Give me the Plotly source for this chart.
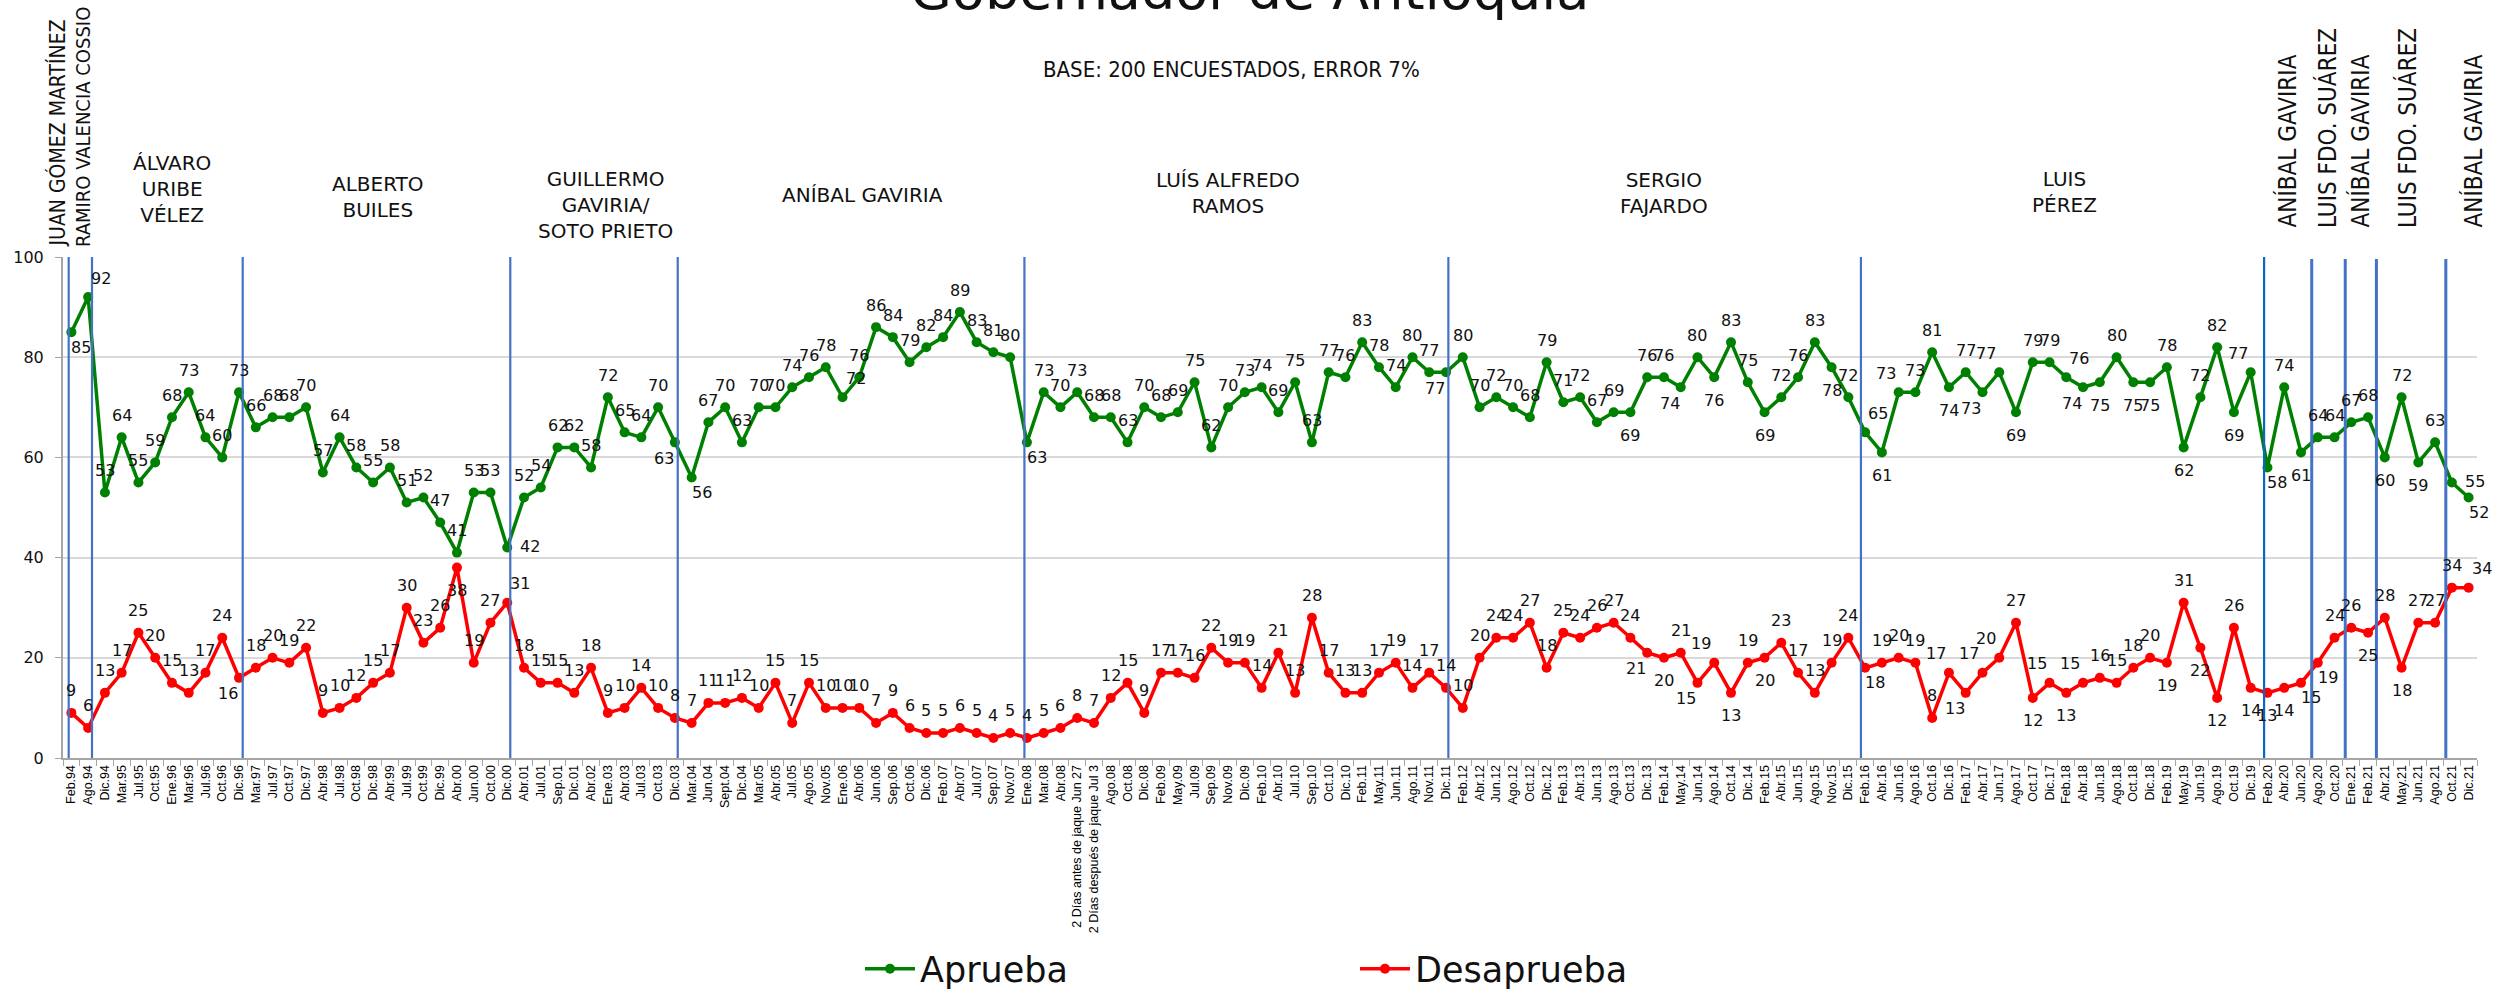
import plotly.graph_objects as go

# ---- survey dates (one per poll) ----
categories = [
    "Feb.94", "Ago.94", "Dic.94", "Mar.95", "Jul.95", "Oct.95", "Ene.96", "Mar.96", "Jul.96", "Oct.96",
    "Dic.96", "Mar.97", "Jul.97", "Oct.97", "Dic.97", "Abr.98", "Jul.98", "Oct.98", "Dic.98", "Abr.99",
    "Jul.99", "Oct.99", "Dic.99", "Abr.00", "Jun.00", "Oct.00", "Dic.00", "Abr.01", "Jul.01", "Sep.01",
    "Dic.01", "Abr.02", "Ene.03", "Abr.03", "Jul.03", "Oct.03", "Dic.03", "Mar.04", "Jun.04", "Sept.04",
    "Dic.04", "Mar.05", "Abr.05", "Jul.05", "Ago.05", "Nov.05", "Ene.06", "Abr.06", "Jun.06", "Sep.06",
    "Oct.06", "Dic.06", "Feb.07", "Abr.07", "Jul.07", "Sep.07", "Nov.07", "Ene.08", "Mar.08", "Abr.08",
    "2 Días antes de jaque Jun 27", "2 Días después de jaque Jul 3", "Ago.08", "Oct.08", "Dic.08",
    "Feb.09", "May.09", "Jul.09", "Sep.09", "Nov.09",
    "Dic.09", "Feb.10", "Abr.10", "Jul.10", "Sep.10", "Oct.10", "Dic.10", "Feb.11", "May.11", "Jun.11",
    "Ago.11", "Nov.11", "Dic.11", "Feb.12", "Abr.12", "Jun.12", "Ago.12", "Oct.12", "Dic.12", "Feb.13",
    "Abr.13", "Jun.13", "Ago.13", "Oct.13", "Dic.13", "Feb.14", "May.14", "Jun.14", "Ago.14", "Oct.14",
    "Dic.14", "Feb.15", "Abr.15", "Jun.15", "Ago.15", "Nov.15", "Dic.15", "Feb.16", "Abr.16", "Jun.16",
    "Ago.16", "Oct.16", "Dic.16", "Feb.17", "Abr.17", "Jun.17", "Ago.17", "Oct.17", "Dic.17", "Feb.18",
    "Abr.18", "Jun.18", "Ago.18", "Oct.18", "Dic.18", "Feb.19", "May.19", "Jun.19", "Ago.19", "Oct.19",
    "Dic.19", "Feb.20", "Abr.20", "Jun.20", "Ago.20", "Oct.20", "Ene.21", "Feb.21", "Abr.21", "May.21",
    "Jun.21", "Ago.21", "Oct.21", "Dic.21",
]

aprueba = [
    85, 92, 53, 64, 55, 59, 68, 73, 64, 60,
    73, 66, 68, 68, 70, 57, 64, 58, 55, 58,
    51, 52, 47, 41, 53, 53, 42, 52, 54, 62,
    62, 58, 72, 65, 64, 70, 63, 56, 67, 70,
    63, 70, 70, 74, 76, 78, 72, 76, 86, 84,
    79, 82, 84, 89, 83, 81, 80, 63, 73, 70,
    73, 68, 68, 63, 70, 68, 69, 75, 62, 70,
    73, 74, 69, 75, 63, 77, 76, 83, 78, 74,
    80, 77, 77, 80, 70, 72, 70, 68, 79, 71,
    72, 67, 69, 69, 76, 76, 74, 80, 76, 83,
    75, 69, 72, 76, 83, 78, 72, 65, 61, 73,
    73, 81, 74, 77, 73, 77, 69, 79, 79, 76,
    74, 75, 80, 75, 75, 78, 62, 72, 82, 69,
    77, 58, 74, 61, 64, 64, 67, 68, 60, 72,
    59, 63, 55, 52,
]

desaprueba = [
    9, 6, 13, 17, 25, 20, 15, 13, 17, 24,
    16, 18, 20, 19, 22, 9, 10, 12, 15, 17,
    30, 23, 26, 38, 19, 27, 31, 18, 15, 15,
    13, 18, 9, 10, 14, 10, 8, 7, 11, 11,
    12, 10, 15, 7, 15, 10, 10, 10, 7, 9,
    6, 5, 5, 6, 5, 4, 5, 4, 5, 6,
    8, 7, 12, 15, 9, 17, 17, 16, 22, 19,
    19, 14, 21, 13, 28, 17, 13, 13, 17, 19,
    14, 17, 14, 10, 20, 24, 24, 27, 18, 25,
    24, 26, 27, 24, 21, 20, 21, 15, 19, 13,
    19, 20, 23, 17, 13, 19, 24, 18, 19, 20,
    19, 8, 17, 13, 17, 20, 27, 12, 15, 13,
    15, 16, 15, 18, 20, 19, 31, 22, 12, 26,
    14, 13, 14, 15, 19, 24, 26, 25, 28, 18,
    27, 27, 34, 34,
]

# governors written across the top of each term
governors = [
    "ÁLVARO<br>URIBE<br>VÉLEZ",
    "ALBERTO<br>BUILES",
    "GUILLERMO<br>GAVIRIA/<br>SOTO PRIETO",
    "ANÍBAL GAVIRIA",
    "LUÍS ALFREDO<br>RAMOS",
    "SERGIO<br>FAJARDO",
    "LUIS<br>PÉREZ",
]
governor_anchor = ["Ene.96", "Dic.98", "Ene.03", "Abr.06", "Nov.09", "Feb.14", "Feb.18"]
governor_nudge = [0.0, 0.3, -0.16, 0.2, 0.0, 0.0, -0.1]
governor_ypx = [189, 197, 205, 195, 193, 193, 192]

# short terms, written vertically (x in pixels of the canvas)
short_terms = [
    "JUAN GÓMEZ MARTÍNEZ", "RAMIRO VALENCIA COSSIO",
    "ANÍBAL GAVIRIA", "LUIS FDO. SUÁREZ", "ANÍBAL GAVIRIA", "LUIS FDO. SUÁREZ", "ANÍBAL GAVIRIA",
]
short_xpx = [57, 83, 2287, 2328, 2360, 2408, 2473]
short_size = [21, 20, 24, 24, 24, 24, 24]

# term boundaries: (survey, fraction of a slot from it)
term_breaks = [
    ("Feb.94", -0.16), ("Ago.94", 0.23), ("Dic.96", 0.22), ("Dic.00", 0.18), ("Dic.03", 0.17),
    ("Ene.08", -0.15), ("Dic.11", 0.14), ("Feb.16", -0.25), ("Feb.20", -0.2), ("Ago.20", -0.36),
    ("Ene.21", -0.36), ("Abr.21", -0.5), ("Oct.21", -0.36),
]

# data-label placement overrides (default: above the point)
green_label_pos = {
    "Feb.94": "BR", "Ago.94": "TR", "Dic.00": "R", "Dic.03": "BL", "Mar.04": "BR", "Ene.06": "TR",
    "Ene.08": "BR", "Dic.11": "BL", "Oct.13": "B", "May.14": "BL", "Ago.14": "B", "Feb.15": "B",
    "Nov.15": "B", "Feb.16": "TR", "Abr.16": "B", "Jun.16": "TL", "Dic.16": "B", "Abr.17": "BL",
    "Jun.17": "TL", "Ago.17": "B", "Feb.18": "TR", "Abr.18": "BL", "Jun.18": "B", "Oct.18": "B",
    "Dic.18": "B", "May.19": "B", "Oct.19": "B", "Dic.19": "TL", "Feb.20": "BR", "Jun.20": "B",
    "Abr.21": "B", "Jun.21": "B", "Oct.21": "R", "Dic.21": "BR",
}
red_label_pos = {
    "Dic.96": "BL", "Abr.00": "B", "Dic.00": "TR", "Dic.13": "BL", "Feb.14": "B", "Jun.14": "BL",
    "Ago.14": "TL", "Oct.14": "B", "Feb.15": "B", "Feb.16": "BR", "Dic.16": "TL", "Feb.17": "BL",
    "Abr.17": "TL", "Jun.17": "TL", "Oct.17": "B", "Dic.17": "TL", "Feb.18": "B", "Abr.18": "TL",
    "Feb.19": "B", "Jun.19": "B", "Ago.19": "B", "Dic.19": "B", "Feb.20": "B", "Abr.20": "B",
    "Jun.20": "BR", "Ago.20": "BR", "Feb.21": "B", "May.21": "B", "Dic.21": "TR",
}
label_shift = {
    "T": (0, 22), "B": (0, -23), "BR": (10, -15), "BL": (-11, -16),
    "TR": (13, 19), "TL": (-13, 19), "R": (23, 1),
}

# ---- canvas geometry ----
W, H = 2501, 991
ML, MR, MT, MB = 63, 24, 257, 233
PLOT_W = W - ML - MR
PLOT_H = H - MT - MB


def px(pixel_x):
    """Paper x for a pixel column."""
    return (pixel_x - ML) / PLOT_W


def py(pixel_y):
    """Paper y for a pixel row."""
    return (H - MB - pixel_y) / PLOT_H


GREEN = "#008000"
RED = "#FF0000"
LABEL_FONT = "DejaVu Sans"
NARROW_FONT = "Liberation Sans Narrow, DejaVu Sans Condensed, sans-serif"

fig = go.Figure()
fig.add_trace(go.Scatter(
    x=categories, y=aprueba, name="Aprueba", mode="lines+markers",
    line=dict(color=GREEN, width=3.5), marker=dict(color=GREEN, size=10),
    cliponaxis=False,
))
fig.add_trace(go.Scatter(
    x=categories, y=desaprueba, name="Desaprueba", mode="lines+markers",
    line=dict(color=RED, width=3.5), marker=dict(color=RED, size=10),
    cliponaxis=False,
))

annotations = []

# value labels
for values, overrides in ((aprueba, green_label_pos), (desaprueba, red_label_pos)):
    for cat, val in zip(categories, values):
        dx, dy = label_shift[overrides.get(cat, "T")]
        annotations.append(dict(
            x=cat, y=val, xref="x", yref="y", text=str(val), showarrow=False,
            xshift=dx, yshift=dy, font=dict(family=LABEL_FONT, size=16, color="#111111"),
        ))

# governor names over each term
for text, cat, nudge, ypx in zip(governors, governor_anchor, governor_nudge, governor_ypx):
    annotations.append(dict(
        x=categories.index(cat) + nudge, y=py(ypx), xref="x", yref="paper",
        text=text, showarrow=False, xanchor="center", yanchor="middle", align="center",
        font=dict(family=LABEL_FONT, size=20, color="#111111"),
    ))

# vertical names for the short terms
for i, (text, xpx, size) in enumerate(zip(short_terms, short_xpx, short_size)):
    left_side = i < 2
    annotations.append(dict(
        x=px(xpx), y=py(249 if left_side else 230), xref="paper", yref="paper",
        text=text, showarrow=False, textangle=-90, xanchor="center", yanchor="bottom",
        font=dict(family=NARROW_FONT, size=size, color="#111111"),
    ))

# title and subtitle
annotations.append(dict(
    x=px(1249), y=py(24), xref="paper", yref="paper", text="Gobernador de Antioquia",
    showarrow=False, xanchor="center", yanchor="bottom",
    font=dict(family=LABEL_FONT, size=54, color="#111111"),
))
annotations.append(dict(
    x=px(1231), y=py(70), xref="paper", yref="paper",
    text="BASE: 200 ENCUESTADOS, ERROR 7%", showarrow=False,
    xanchor="center", yanchor="middle",
    font=dict(family=NARROW_FONT, size=22, color="#111111"),
))

# term separators
shapes = []
for j, (cat, frac) in enumerate(term_breaks):
    xpos = categories.index(cat) + frac
    late = j >= 9
    shapes.append(dict(
        type="line", xref="x", yref="y", x0=xpos, x1=xpos, y0=0, y1=99.6 if late else 100,
        line=dict(color="#0A68C4" if j == 8 else "#4472C4", width=3 if late else 2.2),
        layer="above",
    ))

fig.update_layout(
    width=W, height=H,
    margin=dict(l=ML, r=MR, t=MT, b=MB, autoexpand=False),
    paper_bgcolor="white", plot_bgcolor="white",
    showlegend=True,
    legend=dict(
        orientation="h", x=px(860), y=py(969), xanchor="left", yanchor="middle",
        font=dict(family=LABEL_FONT, size=35, color="#111111"),
        entrywidth=430, entrywidthmode="pixels", itemwidth=50,
        bgcolor="rgba(0,0,0,0)",
    ),
    annotations=annotations,
    shapes=shapes,
    xaxis=dict(
        type="category", categoryorder="array", categoryarray=categories,
        range=[-0.5, len(categories) - 0.5],
        tickmode="array", tickvals=categories, ticktext=categories,
        tickangle=-90, tickson="boundaries", ticks="outside", ticklen=6, tickcolor="#A6A6A6",
        tickfont=dict(family="Liberation Sans", size=12.5, color="#000000"),
        showline=True, linecolor="#A6A6A6", linewidth=2, showgrid=False, zeroline=False,
    ),
    yaxis=dict(
        range=[0, 100], tickmode="array", tickvals=[0, 20, 40, 60, 80, 100],
        ticks="outside", ticklen=6, tickcolor="#A6A6A6", ticklabelstandoff=8,
        tickfont=dict(family=LABEL_FONT, size=16, color="#111111"),
        showline=True, linecolor="#A6A6A6", linewidth=2,
        showgrid=True, gridcolor="#D9D9D9", gridwidth=1.5, zeroline=False,
    ),
)

fig.write_html("out.html")
